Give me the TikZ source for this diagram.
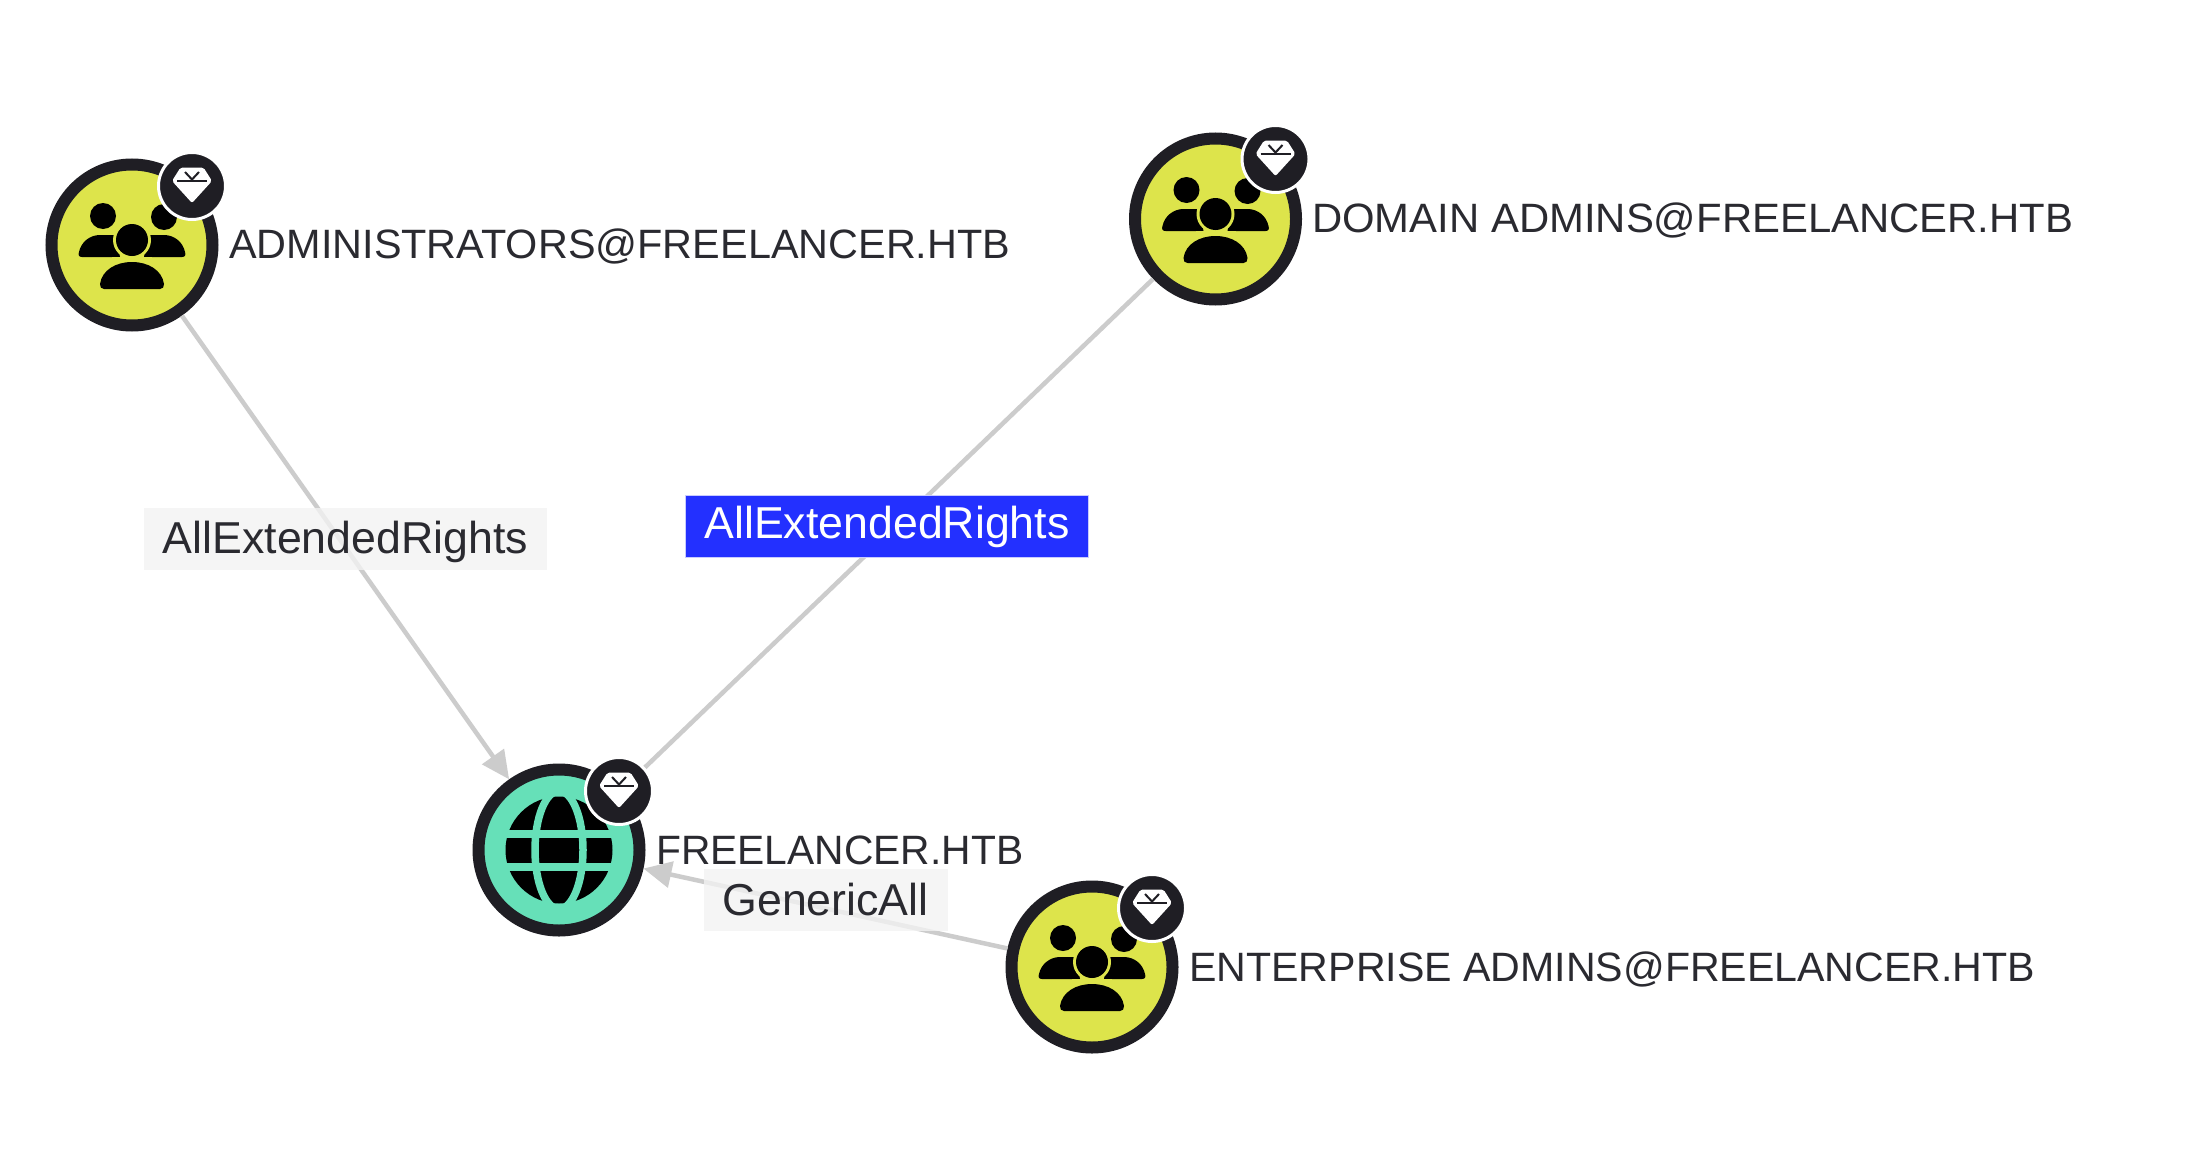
\documentclass[tikz,border=0pt]{standalone}
\usepackage{fontspec}
\usepackage{graphicx}
\setmainfont{Liberation Sans}
\usetikzlibrary{arrows.meta}
\definecolor{ringc}{HTML}{1F1E24}
\definecolor{yellowc}{HTML}{DDE44B}
\definecolor{tealc}{HTML}{66E0B8}
\definecolor{edgec}{HTML}{CCCCCC}
\definecolor{bluec}{HTML}{2330FF}
\definecolor{greyc}{HTML}{F3F3F3}
\definecolor{textc}{HTML}{2A2A30}
\tikzset{
  x=1pt,y=-1pt,
  entity/.style={circle,draw=ringc,line width=12pt,minimum size=161pt,inner sep=0pt},
  groupnode/.style={entity,fill=yellowc},
  domainnode/.style={entity,fill=tealc},
  badge/.style={circle,draw=white,fill=ringc,line width=3pt,minimum size=67pt,inner sep=0pt},
  conn/.style={draw=edgec,line width=4.5pt,-{Triangle[length=28pt,width=26pt]}},
  namelabel/.style={anchor=west,inner sep=0pt,text=textc,font=\fontsize{41}{48}\selectfont},
  edgelabel/.style={inner sep=0pt,text=textc,font=\fontsize{44.7}{52}\selectfont,fill=greyc,fill opacity=.78,text opacity=1},
  edgelabelactive/.style={inner sep=0pt,text=white,font=\fontsize{44.7}{52}\selectfont,fill=bluec,draw=bluec!25!white,line width=1pt},
  pics/groupicon/.style={code={
    \fill[black] (-29,-29) circle[radius=13];
    \fill[black] (32,-28) circle[radius=13];
    \fill[black] (-50,12) .. controls (-53,12) and (-54,10) .. (-53,7) .. controls (-51,-3) and (-42,-10) .. (-32,-10) -- (-16,-10) -- (-12,12) -- cycle;
    \fill[black] (50,12) .. controls (53,12) and (54,10) .. (53,7) .. controls (51,-3) and (42,-10) .. (32,-10) -- (16,-10) -- (12,12) -- cycle;
    \fill[yellowc] (0,-5) circle[radius=19];
    \fill[yellowc] (-20,12) rectangle (20,17);
    \fill[black] (0,-5) circle[radius=16];
    \fill[black] (-28,44) -- (28,44) .. controls (31,44) and (32,42) .. (32,39) .. controls (30,25) and (16,17) .. (0,17) .. controls (-16,17) and (-30,25) .. (-32,39) .. controls (-32,42) and (-31,44) .. (-28,44) -- cycle;
  }},
  pics/globeicon/.style={code={
    \fill[black] (0,0) circle[radius=53.5];
    \begin{scope}
      \clip (0,0) circle[radius=54.5];
      \draw[tealc,line width=7.5pt] (0,0) ellipse[x radius=24,y radius=59];
      \draw[tealc,line width=8pt] (-60,-16) -- (60,-16);
      \draw[tealc,line width=8pt] (-60,17) -- (60,17);
    \end{scope}
  }},
  pics/gemicon/.style={code={
    \fill[white,rounded corners=2pt] (-11.5,-18.5) -- (11.5,-18.5) -- (20,-5) -- (0,17) -- (-20,-5) -- cycle;
    \draw[ringc,line width=2pt] (-15,-5) -- (15,-5);
    \draw[ringc,line width=2pt] (-7,-14) -- (0,-6.5) -- (7,-14);
  }},
}
\begin{document}
\begin{tikzpicture}
\useasboundingbox (0,0) rectangle (2210,1156);
\fill[white] (0,0) rectangle (2210,1156);
\node[groupnode] (admins) at (132,245) {};
\node[groupnode] (domadmins) at (1215.5,219) {};
\node[domainnode] (freelancer) at (559,850) {};
\node[groupnode] (entadmins) at (1092,967) {};
\draw[conn] (admins) -- (freelancer);
\draw[conn] (domadmins) -- (freelancer);
\draw[conn] (entadmins) -- (freelancer);
\node[namelabel] (ladmins) at (229,246.5) {\resizebox{781pt}{\height}{ADMINISTRATORS@FREELANCER.HTB}};
\node[namelabel] (ldomadmins) at (1312,220.5) {\resizebox{761pt}{\height}{DOMAIN ADMINS@FREELANCER.HTB}};
\node[namelabel] (lfreelancer) at (656,850) {\resizebox{367pt}{\height}{FREELANCER.HTB}};
\node[namelabel] (lentadmins) at (1189,969.5) {\resizebox{846pt}{\height}{ENTERPRISE ADMINS@FREELANCER.HTB}};
\pic at (admins) {groupicon};
\pic at (domadmins) {groupicon};
\pic at (entadmins) {groupicon};
\pic at (freelancer) {globeicon};
\node[badge] (badmins) at (192,186) {};
\node[badge] (bdomadmins) at (1275.5,159) {};
\node[badge] (bfreelancer) at (619,791) {};
\node[badge] (bentadmins) at (1152,908) {};
\pic at (badmins) {gemicon};
\pic at (bdomadmins) {gemicon};
\pic at (bfreelancer) {gemicon};
\pic at (bentadmins) {gemicon};
\node[edgelabel,minimum width=403pt,minimum height=62pt] (e1) at (345.5,539) {\raisebox{-3pt}[\height][\depth]{AllExtendedRights}};
\node[edgelabelactive,minimum width=403pt,minimum height=62pt] (e2) at (887,526.5) {AllExtendedRights};
\node[edgelabel,minimum width=244pt,minimum height=62pt] (e3) at (825.5,900) {GenericAll};
\end{tikzpicture}
\end{document}
